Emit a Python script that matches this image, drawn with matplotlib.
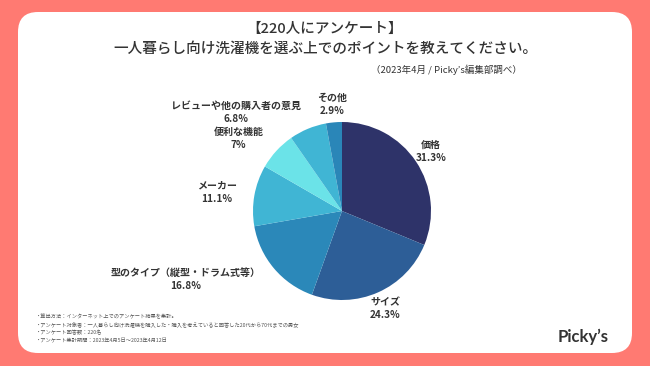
import numpy as np
import matplotlib.pyplot as plt
from matplotlib.patches import FancyBboxPatch

plt.rcParams['font.family'] = ['Noto Sans CJK JP', 'DejaVu Sans']

categories = ['価格', 'サイズ', '型のタイプ（縦型・ドラム式等）', 'メーカー',
              '便利な機能', 'レビューや他の購入者の意見', 'その他']
values = [31.3, 24.3, 16.8, 11.1, 7.0, 6.8, 2.9]
pct_labels = ['31.3%', '24.3%', '16.8%', '11.1%', '7%', '6.8%', '2.9%']
colors = ['#2e3369', '#2d5e97', '#2b88b9', '#40b5d4', '#6be3e8', '#40b5d4', '#2a86b8']

notes = [
    '・算出方法：インターネット上でのアンケート結果を集計。',
    '・アンケート対象者：一人暮らし向け洗濯機を購入した・購入を考えていると回答した20代から70代までの男女',
    '・アンケート回答数：220名',
    '・アンケート集計期間：2023年4月5日〜2023年4月12日',
]

W, H = 650, 366
fig = plt.figure(figsize=(W / 100, H / 100), dpi=100, facecolor='#ff7a72')

# background layer in pixel coords
bg = fig.add_axes([0, 0, 1, 1])
bg.set_xlim(0, W)
bg.set_ylim(H, 0)
bg.axis('off')
card = FancyBboxPatch((18 + 20, 12 + 20), 614 - 40, 341 - 40,
                      boxstyle='round,pad=20', fc='white', ec='none')
bg.add_patch(card)

bg.text(325, 29, '【220人にアンケート】', ha='center', va='center',
        fontsize=10.5, color='#333333', fontweight='medium')
bg.text(325, 49, '一人暮らし向け洗濯機を選ぶ上でのポイントを教えてください。',
        ha='center', va='center', fontsize=10.5, color='#333333', fontweight='medium')
bg.text(522, 70, '（2023年4月 / Picky’s編集部調べ）', ha='right', va='center',
        fontsize=6.8, color='#333333')

for i, line in enumerate(notes):
    bg.text(36, 317 + i * 7.8, line, ha='left', va='center', fontsize=3.75, color='#555555')

bg.text(583, 337, 'Picky’s', ha='center', va='center', fontsize=12,
        fontweight='bold', color='#333333', family=['Lato', 'DejaVu Sans'])

# pie
cx, cy, R = 342, 211, 89
ax = fig.add_axes([(cx - R) / W, (H - cy - R) / H, 2 * R / W, 2 * R / H])
wedges, _ = ax.pie(values, colors=colors, startangle=90, counterclock=False, radius=1,
                   wedgeprops=dict(linewidth=0))
ax.set_xlim(-1, 1)
ax.set_ylim(-1, 1)
ax.axis('off')

for w, cat, pct in zip(wedges, categories, pct_labels):
    ang = np.deg2rad((w.theta1 + w.theta2) / 2)
    x, y = 1.2 * np.cos(ang), 1.2 * np.sin(ang)
    ha = 'right' if np.cos(ang) < -0.3 else 'center'
    ax.text(x, y, cat + '\n' + pct, ha=ha, va='center', multialignment='center',
            fontsize=7.2, fontweight='bold', color='#333333', linespacing=1.35)

fig.savefig('out.png', dpi=100, facecolor=fig.get_facecolor())
